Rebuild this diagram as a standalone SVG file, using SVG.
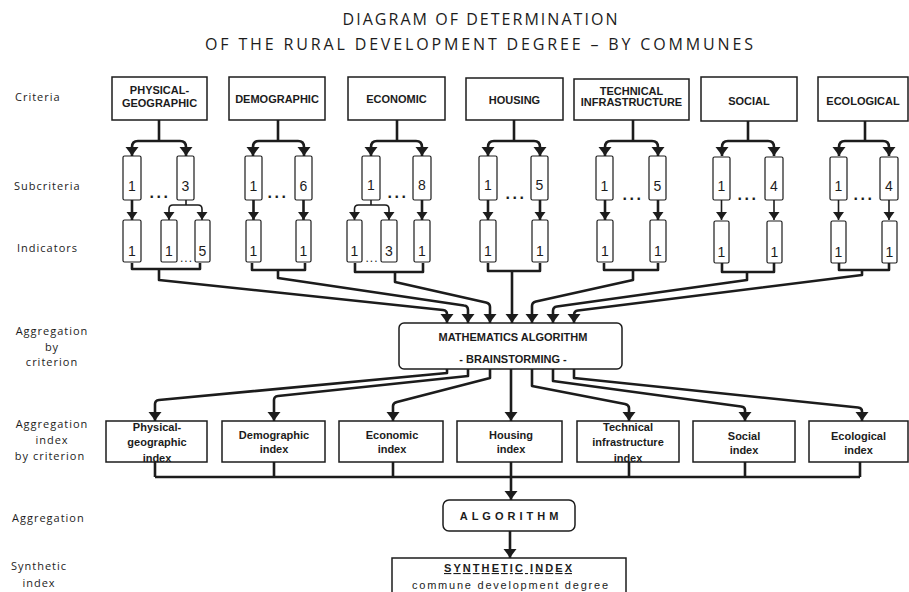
<svg xmlns="http://www.w3.org/2000/svg" width="909" height="592" viewBox="0 0 909 592">
<defs>
<style>
.bx{fill:#fff;stroke:#1c1c1c;stroke-width:1.5}
.sb{fill:#fff;stroke:#1c1c1c;stroke-width:1.2}
.c{fill:none;stroke:#1c1c1c;stroke-width:2.6;stroke-linejoin:round}
.cs{fill:none;stroke:#1c1c1c;stroke-width:1.6;stroke-linejoin:round}
.cr{font-family:"Liberation Sans",Arial,sans-serif;font-weight:bold;font-size:11px;text-anchor:middle;fill:#1c1c1c}
.num{font-family:"Liberation Sans",Arial,sans-serif;font-size:14px;text-anchor:middle;fill:#1c1c1c}
.dots{font-family:"Liberation Sans",Arial,sans-serif;font-weight:bold;font-size:16px;letter-spacing:2.5px;text-anchor:middle;fill:#1c1c1c}
.sdots{font-family:"Liberation Sans",Arial,sans-serif;font-size:12px;letter-spacing:1px;text-anchor:middle;fill:#1c1c1c}
.lab{font-family:"Open Sans","Liberation Sans",sans-serif;font-size:11px;letter-spacing:1px;fill:#1c1c1c}
.labm{font-family:"Open Sans","Liberation Sans",sans-serif;font-size:11px;letter-spacing:1px;fill:#1c1c1c;text-anchor:middle}
.ttl{font-family:"Open Sans","Liberation Sans",sans-serif;font-size:16px;fill:#1c1c1c;text-anchor:middle}
</style>
<marker id="ah" viewBox="-10 -7 11 14" markerUnits="userSpaceOnUse" markerWidth="11" markerHeight="14" refX="0" refY="0" orient="auto">
<path d="M0,0 Q-4,-2.5 -9,-6.5 L-9,6.5 Q-4,2.5 0,0Z" fill="#1c1c1c"/>
</marker>
<marker id="as" viewBox="-9 -6 10 12" markerUnits="userSpaceOnUse" markerWidth="10" markerHeight="12" refX="0" refY="0" orient="auto">
<path d="M0,0 Q-3.5,-2 -8,-5.5 L-8,5.5 Q-3.5,2 0,0Z" fill="#1c1c1c"/>
</marker>
</defs>
<rect width="909" height="592" fill="#fff"/>

<g id="title">
<text class="ttl" x="480" y="25" textLength="275" lengthAdjust="spacing">DIAGRAM OF DETERMINATION</text>
<text class="ttl" x="479" y="50" textLength="548" lengthAdjust="spacing">OF THE RURAL DEVELOPMENT DEGREE – BY COMMUNES</text>
</g>

<g id="row-labels">
<text class="lab" x="15" y="101">Criteria</text>
<text class="lab" x="14" y="190">Subcriteria</text>
<text class="lab" x="17" y="252">Indicators</text>
<text class="labm" x="52" y="335">Aggregation</text>
<text class="labm" x="52" y="351">by</text>
<text class="labm" x="52" y="366">criterion</text>
<text class="labm" x="52" y="428">Aggregation</text>
<text class="labm" x="52" y="444">index</text>
<text class="labm" x="50" y="460">by criterion</text>
<text class="lab" x="12" y="522">Aggregation</text>
<text class="labm" x="39" y="570">Synthetic</text>
<text class="labm" x="39" y="587">index</text>
</g>

<g id="connectors">
<path class="c" d="M159,120 V141"/>
<path class="c" marker-end="url(#ah)" d="M159,141 H138 Q132,141 132,147 V156"/>
<path class="c" marker-end="url(#ah)" d="M159,141 H180 Q186,141 186,147 V156"/>
<path class="c" d="M278,120 V141"/>
<path class="c" marker-end="url(#ah)" d="M278,141 H259 Q253,141 253,147 V156"/>
<path class="c" marker-end="url(#ah)" d="M278,141 H298 Q304,141 304,147 V156"/>
<path class="c" d="M397,120 V141"/>
<path class="c" marker-end="url(#ah)" d="M397,141 H377 Q371,141 371,147 V156"/>
<path class="c" marker-end="url(#ah)" d="M397,141 H416 Q422,141 422,147 V156"/>
<path class="c" d="M514,120 V141"/>
<path class="c" marker-end="url(#ah)" d="M514,141 H494 Q488,141 488,147 V156"/>
<path class="c" marker-end="url(#ah)" d="M514,141 H534 Q540,141 540,147 V156"/>
<path class="c" d="M633,120 V141"/>
<path class="c" marker-end="url(#ah)" d="M633,141 H611 Q605,141 605,147 V156"/>
<path class="c" marker-end="url(#ah)" d="M633,141 H652 Q658,141 658,147 V156"/>
<path class="c" d="M748,121 V141"/>
<path class="c" marker-end="url(#ah)" d="M748,141 H728 Q722,141 722,147 V156"/>
<path class="c" marker-end="url(#ah)" d="M748,141 H768 Q774,141 774,147 V156"/>
<path class="c" d="M865,121 V141"/>
<path class="c" marker-end="url(#ah)" d="M865,141 H845 Q839,141 839,147 V156"/>
<path class="c" marker-end="url(#ah)" d="M865,141 H883 Q889,141 889,147 V156"/>

<path class="c" marker-end="url(#as)" d="M132,200 V220"/>
<path class="cs" d="M186,200 V205"/>
<path class="cs" marker-end="url(#as)" d="M186,205 H173 Q169,205 169,209 V220"/>
<path class="cs" marker-end="url(#as)" d="M186,205 H198 Q202,205 202,209 V220"/>
<path class="c" marker-end="url(#as)" d="M253.5,200 V220"/>
<path class="c" marker-end="url(#as)" d="M303.5,200 V220"/>
<path class="cs" d="M371,200 V205"/>
<path class="cs" marker-end="url(#as)" d="M371,205 H358.5 Q354.5,205 354.5,209 V220"/>
<path class="cs" marker-end="url(#as)" d="M371,205 H385 Q389,205 389,209 V220"/>
<path class="c" marker-end="url(#as)" d="M422,200 V220"/>
<path class="c" marker-end="url(#as)" d="M488,200 V220"/>
<path class="c" marker-end="url(#as)" d="M540,200 V220"/>
<path class="c" marker-end="url(#as)" d="M605,200 V220"/>
<path class="c" marker-end="url(#as)" d="M658,200 V220"/>
<path class="cs" marker-end="url(#as)" d="M721.5,200 V220"/>
<path class="cs" marker-end="url(#as)" d="M774,200 V220"/>
<path class="cs" marker-end="url(#as)" d="M838.5,200 V220"/>
<path class="cs" marker-end="url(#as)" d="M889,200 V220"/>

<path class="c" d="M132,263 V269 H200 V263"/>
<path class="c" d="M252,263 V270 H305 V263"/>
<path class="c" d="M355,263 V272 H423 V263"/>
<path class="c" d="M488,263 V271 H540 V263"/>
<path class="c" d="M604,263 V270 H658 V263"/>
<path class="c" d="M722,263 V272 H774 V263"/>
<path class="c" d="M839,263 V270 H889 V263"/>

<path class="c" marker-end="url(#ah)" d="M159,269 V280 L443,310 Q447,310.5 447,314 V323"/>
<path class="c" marker-end="url(#ah)" d="M278,270 V278 L464,305.5 Q468,306 468,310 V323"/>
<path class="c" marker-end="url(#ah)" d="M395,272 V282 L486,302.5 Q490,303.5 490,307 V323"/>
<path class="c" marker-end="url(#ah)" d="M512,271 V323"/>
<path class="c" marker-end="url(#ah)" d="M633,270 V280 L536,301.5 Q532,302.5 532,306 V323"/>
<path class="c" marker-end="url(#ah)" d="M747,272 V280 L557,306.5 Q553,307 553,311 V323"/>
<path class="c" marker-end="url(#ah)" d="M862,270 V275 L578,310.5 Q574,311 574,315 V323"/>

<path class="c" marker-end="url(#ah)" d="M447,369 V373 L159,400 Q155,400.5 155,404 V421"/>
<path class="c" marker-end="url(#ah)" d="M468,369 V376 L278,396 Q274,396.5 274,400 V421"/>
<path class="c" marker-end="url(#ah)" d="M490,369 V378 L397,402 Q393,403 393,406 V421"/>
<path class="c" marker-end="url(#ah)" d="M511,369 V421"/>
<path class="c" marker-end="url(#ah)" d="M532,369 V386 L625,404 Q629,405 629,408 V421"/>
<path class="c" marker-end="url(#ah)" d="M553,369 V381 L741,406.5 Q745,407 745,410 V421"/>
<path class="c" marker-end="url(#ah)" d="M574,369 V378 L858,407.5 Q862,408 862,411 V421"/>

<path class="c" d="M155,462 V477 M274,462 V477 M393,462 V477 M511,462 V477 M629,462 V477 M745,462 V477 M860,462 V477"/>
<path class="c" stroke-width="3" d="M155,477 H860"/>
<path class="c" marker-end="url(#ah)" d="M511,477 V500"/>
<path class="c" marker-end="url(#ah)" d="M510,531 V558"/>
</g>

<g id="criteria-physical"><rect class="bx" x="112" y="77" width="95" height="43"/><text class="cr" x="159.5" y="94">PHYSICAL-</text><text class="cr" x="159.5" y="107">GEOGRAPHIC</text></g>
<g id="criteria-demographic"><rect class="bx" x="229" y="77" width="96" height="43"/><text class="cr" x="277" y="103">DEMOGRAPHIC</text></g>
<g id="criteria-economic"><rect class="bx" x="348" y="77" width="97" height="43"/><text class="cr" x="396.5" y="103">ECONOMIC</text></g>
<g id="criteria-housing"><rect class="bx" x="466" y="78" width="97" height="42"/><text class="cr" x="514.5" y="104">HOUSING</text></g>
<g id="criteria-technical"><rect class="bx" x="574" y="79" width="115" height="41"/><text class="cr" x="631.5" y="95">TECHNICAL</text><text class="cr" x="631.5" y="106">INFRASTRUCTURE</text></g>
<g id="criteria-social"><rect class="bx" x="701" y="77" width="96" height="44"/><text class="cr" x="749" y="105">SOCIAL</text></g>
<g id="criteria-ecological"><rect class="bx" x="818" y="77" width="90" height="44"/><text class="cr" x="863" y="105">ECOLOGICAL</text></g>

<g id="sub-physical-1"><rect class="sb" x="123" y="156" width="18" height="44" rx="1.5"/><text class="num" x="132" y="191">1</text></g>
<g id="sub-physical-3"><rect class="sb" x="177" y="156" width="17" height="44" rx="1.5"/><text class="num" x="185.5" y="191">3</text></g>
<text class="dots" x="160" y="198">...</text>
<g id="sub-demographic-1"><rect class="sb" x="245" y="156" width="17" height="44" rx="1.5"/><text class="num" x="253.5" y="191">1</text></g>
<g id="sub-demographic-6"><rect class="sb" x="295" y="156" width="17" height="44" rx="1.5"/><text class="num" x="303.5" y="191">6</text></g>
<text class="dots" x="278" y="198">...</text>
<g id="sub-economic-1"><rect class="sb" x="362" y="156" width="18" height="44" rx="1.5"/><text class="num" x="371" y="190">1</text></g>
<g id="sub-economic-8"><rect class="sb" x="413" y="156" width="18" height="44" rx="1.5"/><text class="num" x="422" y="190">8</text></g>
<text class="dots" x="398" y="198">...</text>
<g id="sub-housing-1"><rect class="sb" x="479" y="156" width="18" height="44" rx="1.5"/><text class="num" x="488" y="190">1</text></g>
<g id="sub-housing-5"><rect class="sb" x="531" y="156" width="17" height="44" rx="1.5"/><text class="num" x="539.5" y="190">5</text></g>
<text class="dots" x="516" y="199">...</text>
<g id="sub-technical-1"><rect class="sb" x="596" y="156" width="17" height="44" rx="1.5"/><text class="num" x="604.5" y="191">1</text></g>
<g id="sub-technical-5"><rect class="sb" x="649" y="156" width="17" height="44" rx="1.5"/><text class="num" x="657.5" y="191">5</text></g>
<text class="dots" x="633" y="200">...</text>
<g id="sub-social-1"><rect class="sb" x="713" y="157" width="17" height="43" rx="1.5"/><text class="num" x="721.5" y="191">1</text></g>
<g id="sub-social-4"><rect class="sb" x="765" y="157" width="18" height="43" rx="1.5"/><text class="num" x="774" y="191">4</text></g>
<text class="dots" x="748" y="200">...</text>
<g id="sub-ecological-1"><rect class="sb" x="830" y="157" width="17" height="43" rx="1.5"/><text class="num" x="838.5" y="191">1</text></g>
<g id="sub-ecological-4"><rect class="sb" x="880" y="157" width="18" height="43" rx="1.5"/><text class="num" x="889" y="191">4</text></g>
<text class="dots" x="864" y="200">...</text>

<g id="ind-physical-1"><rect class="sb" x="123" y="220" width="18" height="42" rx="1.5"/><text class="num" x="132" y="256">1</text></g>
<g id="ind-physical-2"><rect class="sb" x="161" y="220" width="16" height="42" rx="1.5"/><text class="num" x="169" y="256">1</text></g>
<g id="ind-physical-5"><rect class="sb" x="195" y="220" width="15" height="42" rx="1.5"/><text class="num" x="202.5" y="256">5</text></g>
<text class="sdots" x="186.5" y="262">...</text>
<g id="ind-demographic-1"><rect class="sb" x="246" y="220" width="15" height="42" rx="1.5"/><text class="num" x="253.5" y="256">1</text></g>
<g id="ind-demographic-2"><rect class="sb" x="296" y="220" width="15" height="42" rx="1.5"/><text class="num" x="303.5" y="256">1</text></g>
<g id="ind-economic-1"><rect class="sb" x="347" y="220" width="15" height="42" rx="1.5"/><text class="num" x="354.5" y="256">1</text></g>
<g id="ind-economic-3"><rect class="sb" x="381" y="220" width="16" height="42" rx="1.5"/><text class="num" x="389" y="256">3</text></g>
<text class="sdots" x="372" y="262">...</text>
<g id="ind-economic-8"><rect class="sb" x="414" y="220" width="16" height="42" rx="1.5"/><text class="num" x="422" y="256">1</text></g>
<g id="ind-housing-1"><rect class="sb" x="480" y="220" width="16" height="42" rx="1.5"/><text class="num" x="488" y="256">1</text></g>
<g id="ind-housing-2"><rect class="sb" x="532" y="220" width="16" height="42" rx="1.5"/><text class="num" x="540" y="256">1</text></g>
<g id="ind-technical-1"><rect class="sb" x="597" y="220" width="16" height="42" rx="1.5"/><text class="num" x="605" y="256">1</text></g>
<g id="ind-technical-2"><rect class="sb" x="650" y="220" width="16" height="42" rx="1.5"/><text class="num" x="658" y="256">1</text></g>
<g id="ind-social-1"><rect class="sb" x="714" y="221" width="15" height="42" rx="1.5"/><text class="num" x="721.5" y="257">1</text></g>
<g id="ind-social-2"><rect class="sb" x="767" y="221" width="15" height="42" rx="1.5"/><text class="num" x="774.5" y="257">1</text></g>
<g id="ind-ecological-1"><rect class="sb" x="831" y="221" width="15" height="42" rx="1.5"/><text class="num" x="838.5" y="257">1</text></g>
<g id="ind-ecological-2"><rect class="sb" x="882" y="221" width="15" height="42" rx="1.5"/><text class="num" x="889.5" y="257">1</text></g>

<g id="math-algorithm"><rect class="bx" x="399" y="323" width="223" height="46" rx="5"/><text class="cr" x="513" y="341">MATHEMATICS ALGORITHM</text><text class="cr" x="513" y="363" font-size="10.5">- BRAINSTORMING -</text></g>

<g id="index-physical"><rect class="bx" x="106" y="421" width="101" height="41"/><text class="cr" x="157" y="431">Physical-</text><text class="cr" x="157" y="446">geographic</text><text class="cr" x="157" y="462">index</text></g>
<g id="index-demographic"><rect class="bx" x="222" y="421" width="103" height="41"/><text class="cr" x="274" y="439">Demographic</text><text class="cr" x="274" y="453">index</text></g>
<g id="index-economic"><rect class="bx" x="339" y="421" width="104" height="41"/><text class="cr" x="392" y="439">Economic</text><text class="cr" x="392" y="453">index</text></g>
<g id="index-housing"><rect class="bx" x="457" y="421" width="105" height="41"/><text class="cr" x="511" y="439">Housing</text><text class="cr" x="511" y="453">index</text></g>
<g id="index-technical"><rect class="bx" x="577" y="421" width="102" height="41"/><text class="cr" x="628" y="431">Technical</text><text class="cr" x="628" y="446">infrastructure</text><text class="cr" x="628" y="462">index</text></g>
<g id="index-social"><rect class="bx" x="693" y="421" width="102" height="41"/><text class="cr" x="744" y="440">Social</text><text class="cr" x="744" y="454">index</text></g>
<g id="index-ecological"><rect class="bx" x="809" y="421" width="99" height="41"/><text class="cr" x="858.5" y="440">Ecological</text><text class="cr" x="858.5" y="454">index</text></g>

<g id="algorithm"><rect class="bx" x="443" y="500" width="132" height="31" rx="6"/><text class="cr" x="511" y="520" letter-spacing="4">ALGORITHM</text></g>

<g id="synthetic-index"><rect class="bx" x="392" y="558" width="234" height="44"/><text class="cr" x="508" y="572" textLength="128" lengthAdjust="spacing" text-decoration="underline">SYNTHETIC INDEX</text><text x="510" y="589" font-family="'Liberation Sans',Arial,sans-serif" font-size="11" fill="#1c1c1c" text-anchor="middle" textLength="196" lengthAdjust="spacing">commune development degree</text></g>
</svg>
